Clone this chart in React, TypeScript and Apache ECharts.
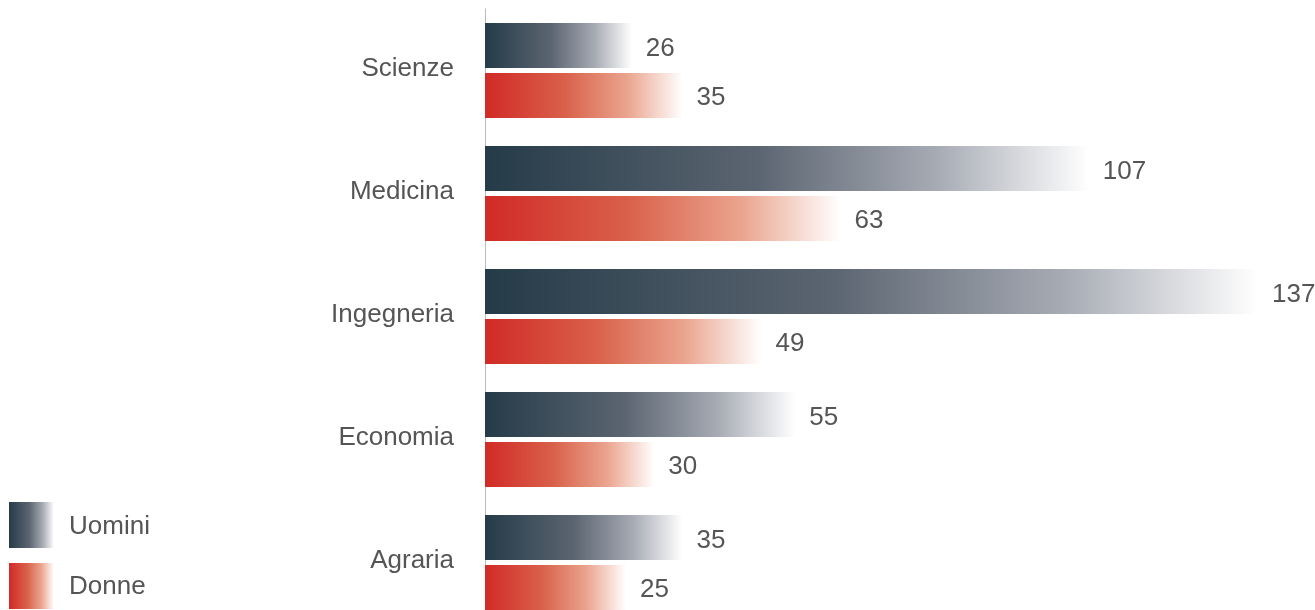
import React, { useEffect, useRef } from "react";
import * as echarts from "echarts";

const categories = ["Scienze", "Medicina", "Ingegneria", "Economia", "Agraria"];
const uomini = [26, 107, 137, 55, 35];
const donne = [35, 63, 49, 30, 25];
const seriesNames = ["Uomini", "Donne"];

const FONT = "'Liberation Sans', Arial, sans-serif";
const TEXT = "#555555";

const gradUomini = () =>
  new echarts.graphic.LinearGradient(0, 0, 1, 0, [
    { offset: 0, color: "#253b48" },
    { offset: 0.45, color: "#5b6571" },
    { offset: 0.75, color: "#a7abb4" },
    { offset: 1, color: "#ffffff" },
  ]);
const gradDonne = () =>
  new echarts.graphic.LinearGradient(0, 0, 1, 0, [
    { offset: 0, color: "#d12a27" },
    { offset: 0.4, color: "#d9604a" },
    { offset: 0.72, color: "#eaa48e" },
    { offset: 1, color: "#ffffff" },
  ]);

export default function App() {
  const ref = useRef<HTMLDivElement>(null);
  useEffect(() => {
    if (!ref.current) return;
    const chart = echarts.init(ref.current, undefined, { renderer: "svg" });
    const label = {
      show: true,
      position: "right" as const,
      distance: 14,
      color: TEXT,
      fontSize: 26,
      fontFamily: FONT,
      offset: [0, 1],
    };
    chart.setOption({
      animation: false,
      grid: { left: 485, top: 9, width: 790, bottom: 1, containLabel: false },
      xAxis: { type: "value", min: 0, max: 140, show: false },
      yAxis: {
        type: "category",
        data: categories,
        inverse: true,
        axisLine: { show: true, lineStyle: { color: "#bbbbbb", width: 1 } },
        axisTick: { show: false },
        axisLabel: {
          color: TEXT,
          fontSize: 26,
          fontFamily: FONT,
          margin: 31,
          formatter: "{c|{value}}",
          rich: {
            c: {
              color: TEXT,
              fontSize: 26,
              fontFamily: FONT,
              padding: [0, 0, 7, 0],
            },
          },
        },
      },
      series: [
        {
          name: seriesNames[0],
          type: "bar",
          data: uomini,
          barWidth: 45,
          barGap: "11%",
          itemStyle: { color: gradUomini() },
          label,
        },
        {
          name: seriesNames[1],
          type: "bar",
          data: donne,
          barWidth: 45,
          barGap: "11%",
          itemStyle: { color: gradDonne() },
          label,
        },
      ],
      graphic: [
        { type: "rect", left: 9, top: 502, shape: { width: 45, height: 46 }, style: { fill: gradUomini() } },
        { type: "rect", left: 9, top: 563, shape: { width: 45, height: 46 }, style: { fill: gradDonne() } },
        {
          type: "text",
          left: 69,
          top: 512,
          style: { text: seriesNames[0], fill: TEXT, font: `26px ${FONT}` },
        },
        {
          type: "text",
          left: 69,
          top: 572,
          style: { text: seriesNames[1], fill: TEXT, font: `26px ${FONT}` },
        },
      ],
    });
    return () => chart.dispose();
  }, []);
  return (
    <div
      ref={ref}
      style={{ position: "fixed", left: 0, top: 0, width: 1315, height: 625 }}
    />
  );
}
